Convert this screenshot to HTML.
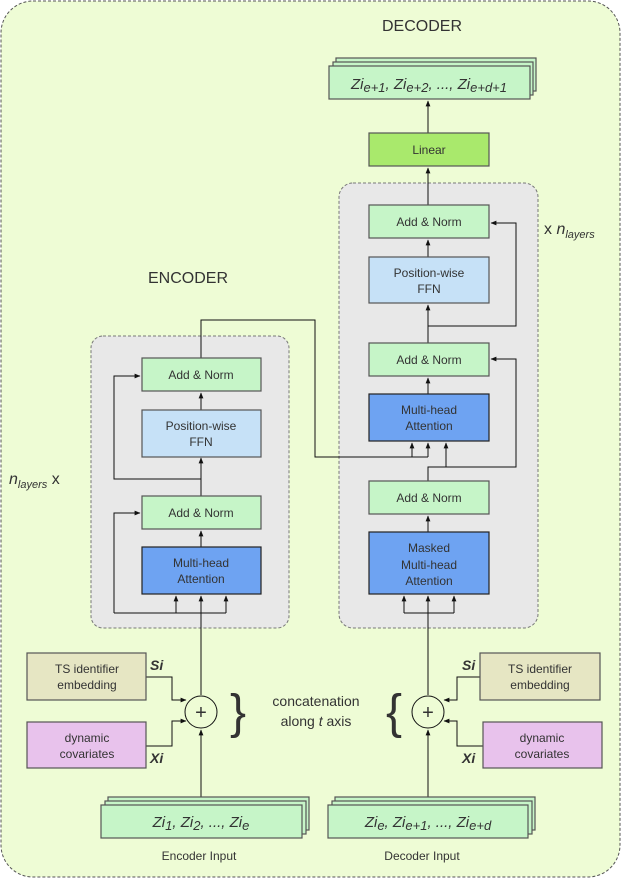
<!DOCTYPE html>
<html><head><meta charset="utf-8"><style>
html,body{margin:0;padding:0;background:#fff}
svg{display:block}
text{font-family:"Liberation Sans",sans-serif;fill:#333}
</style></head><body>
<svg width="640" height="879" viewBox="0 0 640 879" xmlns="http://www.w3.org/2000/svg">
<defs>
<marker id="a" viewBox="0 0 10 10" refX="9" refY="5" markerWidth="6" markerHeight="6" orient="auto"><path d="M0,1 L10,5 L0,9 z" fill="#111"/></marker>
</defs>
<rect x="1" y="1" width="619" height="876" rx="32" fill="#eefcd5" stroke="#555" stroke-dasharray="3,2"/>
<text x="422" y="31" font-size="16" text-anchor="middle" fill="#222">DECODER</text>
<text x="188" y="283" font-size="16" text-anchor="middle" fill="#222">ENCODER</text>

<!-- gray boxes -->
<rect x="91" y="336" width="198" height="292" rx="12" fill="#e8e8e8" stroke="#777" stroke-dasharray="3,2"/>
<rect x="339" y="183" width="199" height="445" rx="14" fill="#e8e8e8" stroke="#777" stroke-dasharray="3,2"/>

<g stroke="#111" stroke-width="1" fill="none">
<!-- encoder connections -->
<path d="M201,358 V320 H315 V457 H428"/>
<path d="M412,457 V443" marker-end="url(#a)"/>
<path d="M428,457 V443" marker-end="url(#a)"/>
<path d="M201,496 V458" marker-end="url(#a)"/>
<path d="M201,410 V393" marker-end="url(#a)"/>
<path d="M201,479 H114 V376 H140" marker-end="url(#a)"/>
<path d="M201,547 V531" marker-end="url(#a)"/>
<path d="M114,613 V513 H140" marker-end="url(#a)"/>
<path d="M114,613 H226"/>
<path d="M176,613 V596" marker-end="url(#a)"/>
<path d="M226,613 V596" marker-end="url(#a)"/>
<path d="M201,695 V596" marker-end="url(#a)"/>
<!-- decoder -->
<path d="M428,205 V168" marker-end="url(#a)"/>
<path d="M428,133 V101" marker-end="url(#a)"/>
<path d="M428,257 V240" marker-end="url(#a)"/>
<path d="M428,343 V305" marker-end="url(#a)"/>
<path d="M428,326 H516 V223 H491" marker-end="url(#a)"/>
<path d="M428,394 V378" marker-end="url(#a)"/>
<path d="M428,481 V467 H516 V359 H491" marker-end="url(#a)"/>
<path d="M446,467 V443" marker-end="url(#a)"/>
<path d="M428,532 V516" marker-end="url(#a)"/>
<path d="M404,613 H454"/>
<path d="M404,613 V596" marker-end="url(#a)"/>
<path d="M454,613 V596" marker-end="url(#a)"/>
<path d="M428,695 V596" marker-end="url(#a)"/>
<!-- inputs -->
<path d="M146,677 H172 V700 H186" marker-end="url(#a)"/>
<path d="M146,746 H172 V721 H186" marker-end="url(#a)"/>
<path d="M480,677 H457 V700 H444" marker-end="url(#a)"/>
<path d="M483,746 H457 V721 H444" marker-end="url(#a)"/>
<path d="M201,804 V730" marker-end="url(#a)"/>
<path d="M428,804 V730" marker-end="url(#a)"/>
</g>

<g stroke="#555" stroke-width="1.2">
<!-- output stack -->
<rect x="336" y="58" width="200" height="33" fill="#c6f5c8"/>
<rect x="333" y="62" width="200" height="33" fill="#c6f5c8"/>
<rect x="329" y="66" width="201" height="33" fill="#c6f5c8"/>
<rect x="369" y="133" width="120" height="33" fill="#a9e96c"/>
<rect x="369" y="205" width="120" height="33" fill="#c6f5c8"/>
<rect x="369" y="257" width="120" height="46" fill="#c6e1f7"/>
<rect x="369" y="343" width="120" height="33" fill="#c6f5c8"/>
<rect x="369" y="394" width="120" height="47" fill="#6ea3f2" stroke="#222"/>
<rect x="369" y="481" width="120" height="33" fill="#c6f5c8"/>
<rect x="369" y="532" width="120" height="62" fill="#6ea3f2" stroke="#222"/>
<rect x="142" y="358" width="119" height="33" fill="#c6f5c8"/>
<rect x="142" y="410" width="119" height="47" fill="#c6e1f7"/>
<rect x="142" y="496" width="119" height="33" fill="#c6f5c8"/>
<rect x="142" y="547" width="119" height="47" fill="#6ea3f2" stroke="#222"/>
<rect x="27" y="653" width="119" height="47" fill="#e6e6c3"/>
<rect x="27" y="722" width="119" height="46" fill="#e8c2ec"/>
<rect x="480" y="653" width="120" height="47" fill="#e6e6c3"/>
<rect x="483" y="722" width="119" height="46" fill="#e8c2ec"/>
<rect x="108" y="797" width="201" height="33" fill="#c6f5c8"/>
<rect x="105" y="801" width="201" height="33" fill="#c6f5c8"/>
<rect x="101" y="805" width="201" height="33" fill="#c6f5c8"/>
<rect x="335" y="797" width="200" height="33" fill="#c6f5c8"/>
<rect x="332" y="801" width="200" height="33" fill="#c6f5c8"/>
<rect x="328" y="805" width="200" height="33" fill="#c6f5c8"/>
</g>
<circle cx="201" cy="712" r="16" fill="#eefcd5" stroke="#111"/>
<circle cx="428" cy="712" r="16" fill="#eefcd5" stroke="#111"/>
<text x="201" y="719" font-size="20" text-anchor="middle" fill="#111">+</text>
<text x="428" y="719" font-size="20" text-anchor="middle" fill="#111">+</text>

<g font-size="12" text-anchor="middle">
<text x="429" y="154">Linear</text>
<text x="429" y="226">Add &amp; Norm</text>
<text x="429" y="277">Position-wise</text><text x="429" y="293">FFN</text>
<text x="429" y="364">Add &amp; Norm</text>
<text x="429" y="414">Multi-head</text><text x="429" y="430">Attention</text>
<text x="429" y="502">Add &amp; Norm</text>
<text x="429" y="552">Masked</text><text x="429" y="569">Multi-head</text><text x="429" y="585">Attention</text>
<text x="201" y="379">Add &amp; Norm</text>
<text x="201" y="430">Position-wise</text><text x="201" y="446">FFN</text>
<text x="201" y="517">Add &amp; Norm</text>
<text x="201" y="567">Multi-head</text><text x="201" y="583">Attention</text>
<text x="87" y="673">TS identifier</text><text x="87" y="689">embedding</text>
<text x="87" y="742">dynamic</text><text x="87" y="758">covariates</text>
<text x="540" y="673">TS identifier</text><text x="540" y="689">embedding</text>
<text x="542" y="742">dynamic</text><text x="542" y="758">covariates</text>
<text x="199" y="860">Encoder Input</text>
<text x="422" y="860">Decoder Input</text>
</g>
<g font-size="14" text-anchor="middle">
<text x="316" y="706">concatenation</text>
<text x="316" y="726">along <tspan font-style="italic">t</tspan> axis</text>
</g>
<text x="238" y="728" font-size="48" text-anchor="middle" fill="#111">}</text>
<text x="394" y="728" font-size="48" text-anchor="middle" fill="#111">{</text>
<g font-size="14" font-style="italic" font-weight="bold" fill="#111">
<text x="150" y="670" fill="#111">Si</text>
<text x="150" y="763" fill="#111">Xi</text>
<text x="462" y="670" fill="#111">Si</text>
<text x="462" y="763" fill="#111">Xi</text>
</g>
<g font-size="15" font-style="italic" text-anchor="middle">
<text x="429" y="89">Zi<tspan font-size="13" dy="3">e+1</tspan><tspan dy="-3">, Zi</tspan><tspan font-size="13" dy="3">e+2</tspan><tspan dy="-3">, ..., Zi</tspan><tspan font-size="13" dy="3">e+d+1</tspan></text>
<text x="201" y="827">Zi<tspan font-size="13" dy="3">1</tspan><tspan dy="-3">, Zi</tspan><tspan font-size="13" dy="3">2</tspan><tspan dy="-3">, ..., Zi</tspan><tspan font-size="13" dy="3">e</tspan></text>
<text x="428" y="827">Zi<tspan font-size="13" dy="3">e</tspan><tspan dy="-3">, Zi</tspan><tspan font-size="13" dy="3">e+1</tspan><tspan dy="-3">, ..., Zi</tspan><tspan font-size="13" dy="3">e+d</tspan></text>
</g>
<text x="544" y="234" font-size="16">x <tspan font-style="italic">n</tspan><tspan font-style="italic" font-size="11" dy="4">layers</tspan></text>
<text x="9" y="484" font-size="16"><tspan font-style="italic">n</tspan><tspan font-style="italic" font-size="11" dy="4">layers</tspan><tspan dy="-4"> x</tspan></text>
</svg>
</body></html>
